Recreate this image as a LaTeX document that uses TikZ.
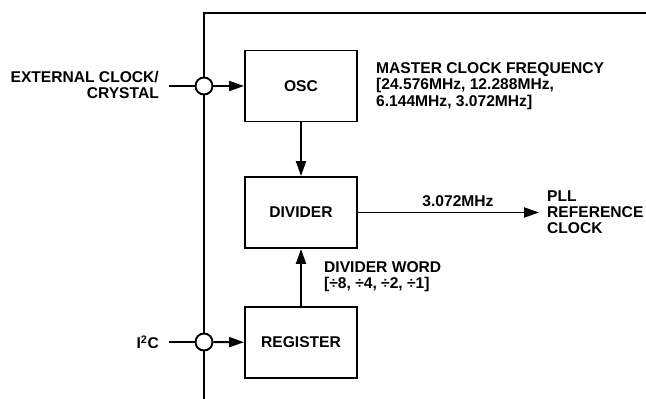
\documentclass[tikz,border=0pt]{standalone}
\usepackage{fontspec}
\setmainfont{Liberation Sans}
\usetikzlibrary{arrows.meta}
\begin{document}
\begin{tikzpicture}[x=1pt,y=-1pt,
  lbl/.style={font=\fontsize{15.6}{16.2}\selectfont\bfseries, inner sep=0pt},
  blk/.style={draw, line width=1.9pt, minimum width=112pt, minimum height=71pt, font=\fontsize{15.6}{16.2}\selectfont\bfseries},
  pin/.style={draw, circle, line width=1.9pt, fill=white, minimum size=17pt, inner sep=0pt},
  wire/.style={line width=1.9pt},
  arr/.style={line width=1.9pt, -{Triangle[length=15pt,width=10pt]}}]
\useasboundingbox (0,0) rectangle (646,399);
% chip outline
\coordinate (cb) at (204,399);
\coordinate (ctl) at (204,13);
\coordinate (ctr) at (646,13);
\draw[line width=2.3pt] (cb) -- (ctl) -- (ctr);
% blocks
\node[blk] (osc) at (301,86) {OSC};
\node[blk] (div) at (301,212.5) {DIVIDER};
\node[blk] (reg) at (301,342.5) {REGISTER};
% pins
\node[pin] (p1) at (204,86) {};
\node[pin] (p2) at (204,342) {};
% external labels
\node[lbl, anchor=east, align=right] (ext) at (159,85) {EXTERNAL CLOCK/\\CRYSTAL};
\node[lbl, anchor=east] (i2c) at (159,342) {I\textsuperscript{2}C};
\coordinate (e1) at (169,86);
\coordinate (e2) at (169,342);
\draw[wire] (e1) -- (p1);
\draw[wire] (e2) -- (p2);
\draw[arr] (p1) -- (osc);
\draw[arr] (p2) -- (reg);
\draw[arr] (osc) -- (div);
\draw[arr] (reg) -- (div);
\coordinate (out) at (539,212.5);
\draw[arr] (div) -- (out);
\node[lbl, anchor=south] (freq) at (458,207) {3.072MHz};
\node[lbl, anchor=west, align=left] (pll) at (547,212) {PLL\\REFERENCE\\CLOCK};
\node[lbl, anchor=west, align=left] (mcf) at (376,86) {MASTER CLOCK FREQUENCY\\{}[24.576MHz, 12.288MHz,\\6.144MHz, 3.072MHz]};
\node[lbl, anchor=west, align=left] (dw) at (324,277) {DIVIDER WORD\\{}[÷8, ÷4, ÷2, ÷1]};
\end{tikzpicture}
\end{document}
